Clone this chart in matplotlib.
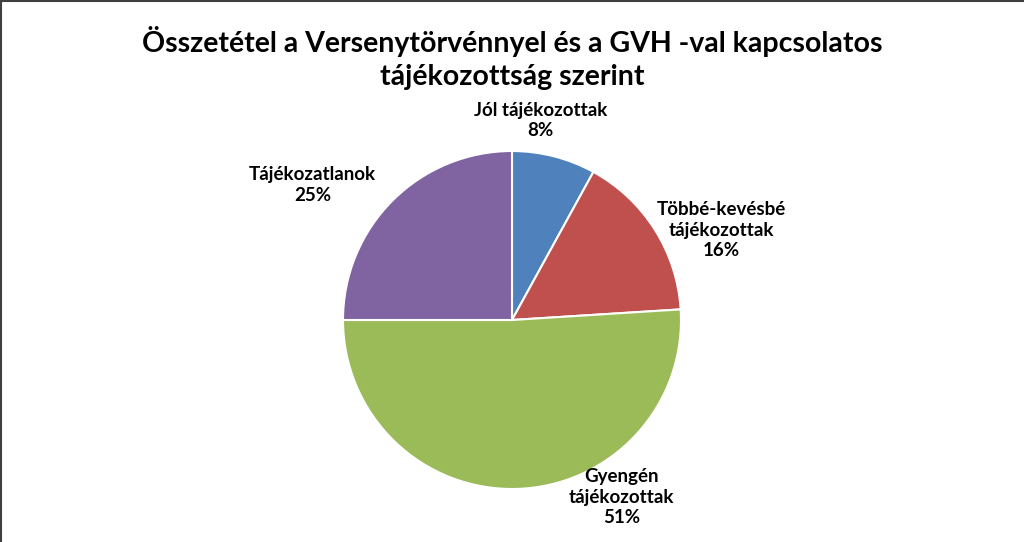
import matplotlib
matplotlib.use("Agg")
import matplotlib.pyplot as plt
from matplotlib.lines import Line2D

categories = ["Jól tájékozottak", "Többé-kevésbé\ntájékozottak", "Gyengén\ntájékozottak", "Tájékozatlanok"]
values = [8, 16, 51, 25]
colors = ["#4F81BD", "#C0504D", "#9BBB59", "#8064A2"]
label_pos = [(0.17, 1.18), (1.24, 0.53), (0.65, -1.05), (-1.18, 0.80)]
title = "Összetétel a Versenytörvénnyel és a GVH -val kapcsolatos\ntájékozottság szerint"

plt.rcParams['font.family'] = ['Lato', 'DejaVu Sans']

W, H = 1024, 542
fig = plt.figure(figsize=(W / 100, H / 100), dpi=100)
cx, cy, r = 512, 320, 169
ax = fig.add_axes([(cx - r) / W, (H - cy - r) / H, 2 * r / W, 2 * r / H])
ax.pie(values, colors=colors, startangle=90, counterclock=False, radius=1,
       wedgeprops=dict(edgecolor="white", linewidth=1.5))
ax.set_xlim(-1, 1)
ax.set_ylim(-1, 1)
ax.set_aspect("equal")
ax.axis("off")

total = sum(values)
for cat, v, (x, y) in zip(categories, values, label_pos):
    ax.text(x, y, f"{cat}\n{round(100 * v / total)}%", ha="center", va="center",
            fontsize=13.5, fontweight="bold", linespacing=1.25, clip_on=False)

fig.text(0.5, 1 - 58 / H, title, ha="center", va="center", fontsize=20.5,
         fontweight="bold", linespacing=1.35)

fig.add_artist(Line2D([0, 1], [1 - 1 / H, 1 - 1 / H], transform=fig.transFigure, color="#404040", lw=1.5))
fig.add_artist(Line2D([1 / W, 1 / W], [0, 1], transform=fig.transFigure, color="#404040", lw=1.5))

fig.savefig("out.png", dpi=100, facecolor="white")
